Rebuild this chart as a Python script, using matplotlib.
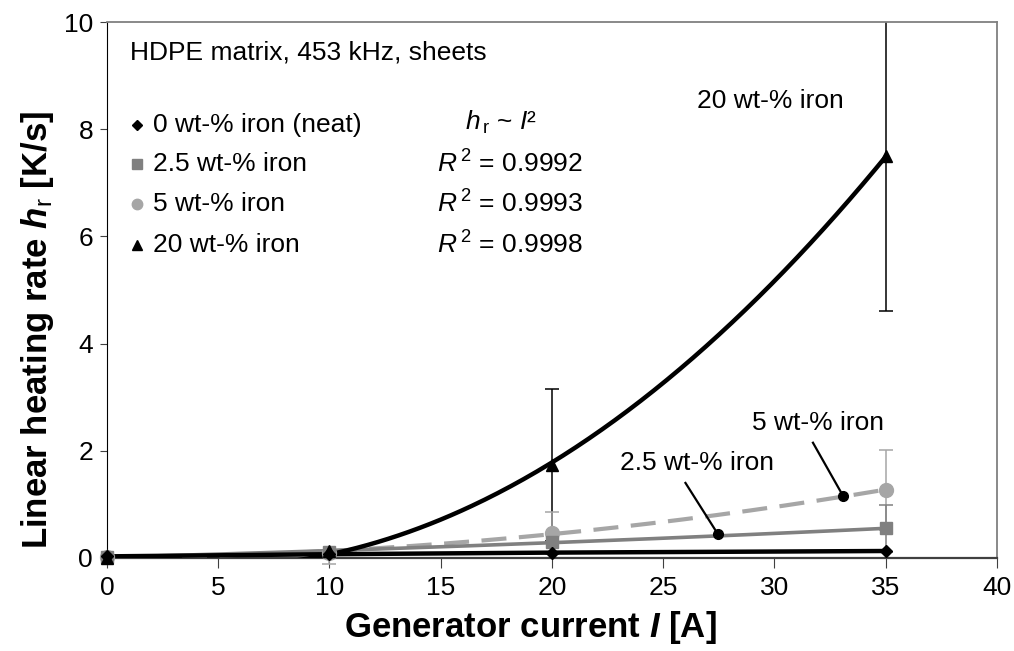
import numpy as np
import matplotlib
matplotlib.use("Agg")
import matplotlib.pyplot as plt

plt.rcParams["font.family"] = ["Liberation Sans", "DejaVu Sans"]
plt.rcParams["mathtext.fontset"] = "custom"
plt.rcParams["mathtext.rm"] = "Liberation Sans"
plt.rcParams["mathtext.it"] = "Liberation Sans:italic"
plt.rcParams["mathtext.bf"] = "Liberation Sans:bold"
plt.rcParams["mathtext.bfit"] = "Liberation Sans:italic:bold"

# Generator current [A]
current = [0, 10, 20, 35]

# Linear heating rate [K/s] per iron content
rate_neat = [0.03, 0.07, 0.10, 0.13]
rate_2p5 = [0.02, 0.12, 0.30, 0.55]
rate_5 = [0.02, 0.10, 0.47, 1.27]
rate_20 = [0.00, 0.13, 1.73, 7.50]

# Standard deviations (lower, upper)
err_2p5 = [[0.0, 0.0, 0.0, 0.44], [0.0, 0.0, 0.0, 0.44]]
err_5 = [[0.0, 0.22, 0.39, 0.74], [0.0, 0.0, 0.39, 0.74]]
err_20 = [[0.0, 0.0, 1.42, 2.89], [0.0, 0.0, 1.42, 2.89]]

legend_labels = ["0 wt-% iron (neat)", "2.5 wt-% iron", "5 wt-% iron", "20 wt-% iron"]
r_squared = ["0.9992", "0.9993", "0.9998"]
x_ticks = [0, 5, 10, 15, 20, 25, 30, 35, 40]
y_ticks = [0, 2, 4, 6, 8, 10]

fig = plt.figure(figsize=(10.14, 6.51), dpi=100)
ax = fig.add_axes([0.1055, 0.1429, 0.8777, 0.8233])

black = "#000000"
mid_gray = "#808080"
light_gray = "#a6a6a6"

# error bars
ax.errorbar(current, rate_20, yerr=err_20, fmt="none", ecolor=black,
            elinewidth=1.1, capsize=5, capthick=1.1, zorder=2)
ax.errorbar(current, rate_5, yerr=err_5, fmt="none", ecolor=light_gray,
            elinewidth=1.1, capsize=5, capthick=1.1, zorder=2, clip_on=False)
ax.errorbar(current, rate_2p5, yerr=err_2p5, fmt="none", ecolor=mid_gray,
            elinewidth=1.1, capsize=5, capthick=1.1, zorder=2)

# quadratic trendlines h_r ~ I^2
grid = np.linspace(0, 35, 300)
fit_5 = np.polyval(np.polyfit(current, rate_5, 2), grid)
fit_2p5 = np.polyval(np.polyfit(current, rate_2p5, 2), grid)
fit_20 = np.polyval(np.polyfit(current, rate_20, 2), grid)

ax.plot(grid, fit_5, color=light_gray, lw=3, linestyle=(0, (6, 3)), zorder=3)
ax.plot(grid, fit_2p5, color=mid_gray, lw=2.6, zorder=3)
ax.plot(current, rate_neat, color=black, lw=3.2, zorder=4)
ax.plot(grid, fit_20, color=black, lw=3.2, zorder=4)

# markers
ax.plot(current, rate_5, "o", color=light_gray, ms=10, ls="none", zorder=5, clip_on=False)
ax.plot(current, rate_2p5, "s", color=mid_gray, ms=9, ls="none", zorder=5, clip_on=False)
ax.plot(current, rate_neat, "D", color=black, ms=6.5, ls="none", zorder=6, clip_on=False)
ax.plot(current, rate_20, "^", color=black, ms=9, ls="none", zorder=6, clip_on=False)

ax.set_xlim(0, 40)
ax.set_ylim(0, 10)
ax.set_xticks(x_ticks)
ax.set_yticks(y_ticks)
ax.tick_params(axis="both", labelsize=19, direction="out", color="#404040")
ax.tick_params(axis="x", length=7, pad=6)
ax.tick_params(axis="y", length=5, pad=5)
for side in ("top", "right"):
    ax.spines[side].set_color(mid_gray)
    ax.spines[side].set_linewidth(1.3)
ax.spines["left"].set_color(black)
ax.spines["bottom"].set_color("#404040")
ax.spines["bottom"].set_linewidth(1.6)


def fx(px):
    return (px - 107) / 890.0


def fy(py):
    return (558 - py) / 536.0


ax.set_xlabel(r"Generator current $\mathbfit{I}$ [A]", fontsize=25,
              fontweight="bold", va="center", ha="center")
ax.xaxis.set_label_coords(fx(530), fy(628))
ax.set_ylabel(r"Linear heating rate $\mathbfit{h}_{\mathrm{r}}$ [K/s]", fontsize=25,
              fontweight="bold", va="center", ha="center")
ax.yaxis.set_label_coords(fx(38), fy(330))

tr = ax.transAxes
ax.text(fx(130), fy(52), "HDPE matrix, 453 kHz, sheets", transform=tr,
        fontsize=19, va="center", ha="left")

row_y = [125, 164, 204, 245]
legend_style = [
    dict(marker="D", color=black, ms=5.5),
    dict(marker="s", color=mid_gray, ms=7),
    dict(marker="o", color=light_gray, ms=7.5),
    dict(marker="^", color=black, ms=7),
]
for label, py, st in zip(legend_labels, row_y, legend_style):
    ax.plot([fx(137)], [fy(py)], transform=tr, ls="none", clip_on=False, **st)
    ax.text(fx(153), fy(py), label, transform=tr, fontsize=19,
            va="center", ha="left")

ax.text(fx(501), fy(122), r"$\mathit{h}_{\,\mathrm{r}}$ ~ $\mathit{I}$²", transform=tr,
        fontsize=19, va="center", ha="center")
for r2, py in zip(r_squared, row_y[1:]):
    ax.text(fx(437), fy(py), r"$\mathit{R}^{\,2}$ = " + r2, transform=tr,
            fontsize=19, va="center", ha="left")

# series annotations with leader lines
ax.text(29.8, 8.52, "20 wt-% iron", fontsize=19, ha="center", va="center")

ax.text(26.5, 1.77, "2.5 wt-% iron", fontsize=19, ha="center", va="center")
ax.plot([26.0, 27.45], [1.40, 0.45], color=black, lw=1.6, zorder=7)
ax.plot([27.45], [0.45], "o", color=black, ms=7, zorder=7)

ax.text(31.95, 2.52, "5 wt-% iron", fontsize=19, ha="center", va="center")
ax.plot([31.73, 33.08], [2.15, 1.16], color=black, lw=1.6, zorder=7)
ax.plot([33.08], [1.16], "o", color=black, ms=7, zorder=7)

fig.savefig("out.png", dpi=100)
